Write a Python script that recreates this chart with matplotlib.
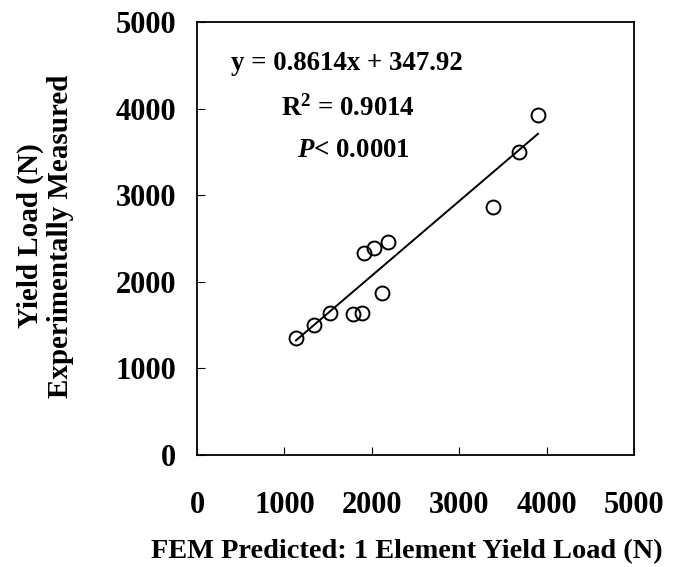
import numpy as np
from matplotlib import pyplot as plt

# FEM predicted vs experimentally measured yield load (N)
fem_pred = [1133, 1339, 1522, 1785, 1888, 2117, 1911, 2025, 2185, 3387, 3684, 3902]
measured = [1351, 1501, 1640, 1628, 1640, 1871, 2333, 2390, 2460, 2864, 3499, 3926]
slope, intercept = 0.8614, 347.92
ticks = [0, 1000, 2000, 3000, 4000, 5000]

plt.rcParams['font.family'] = ['Liberation Serif', 'DejaVu Serif']
plt.rcParams['font.weight'] = 'bold'
plt.rcParams['mathtext.fontset'] = 'custom'
plt.rcParams['mathtext.rm'] = 'Liberation Serif:bold'
plt.rcParams['mathtext.it'] = 'Liberation Serif:italic:bold'
plt.rcParams['mathtext.bf'] = 'Liberation Serif:bold'

fig = plt.figure(figsize=(6.85, 5.67), dpi=100)
ax = fig.add_axes([0.2876, 0.1975, 0.9255 - 0.2876, 0.9612 - 0.1975])

# fitted line over the data range
xs = np.array([min(fem_pred), max(fem_pred)])
ax.plot(xs, slope * xs + intercept, color='black', lw=1.4)
ax.plot(fem_pred, measured, 'o', mfc='none', mec='black', ms=10, mew=1.4)

ax.set_xlim(0, 5000)
ax.set_ylim(0, 5000)
ax.set_xticks(ticks)
ax.set_yticks(ticks)
ax.tick_params(axis='x', direction='in', length=6, pad=26, labelsize=22)
ax.tick_params(axis='y', direction='in', length=6, pad=15, labelsize=22)
for s in ax.spines.values():
    s.set_linewidth(1.3)

# equation / stats text
ax.text(0.343, 0.905, "y = 0.8614x + 347.92", transform=ax.transAxes,
        ha='center', va='center', fontsize=19.4, fontweight='bold')
ax.text(0.345, 0.80, "R$^2$ = 0.9014", transform=ax.transAxes,
        ha='center', va='center', fontsize=19.4, fontweight='bold')
ax.text(0.357, 0.704, "$\\mathit{P}$< 0.0001", transform=ax.transAxes,
        ha='center', va='center', fontsize=19.4, fontweight='bold')

fig.text(45 / 685, 1 - 236 / 567, "Yield Load (N)\nExperimentally Measured",
         rotation=90, ha='center', va='center', multialignment='center',
         fontsize=21, fontweight='bold', linespacing=1.15)
fig.text(407 / 685, 1 - 552 / 567, "FEM Predicted: 1 Element Yield Load (N)",
         ha='center', va='center', fontsize=20.4, fontweight='bold')

fig.savefig("out.png", dpi=100)
